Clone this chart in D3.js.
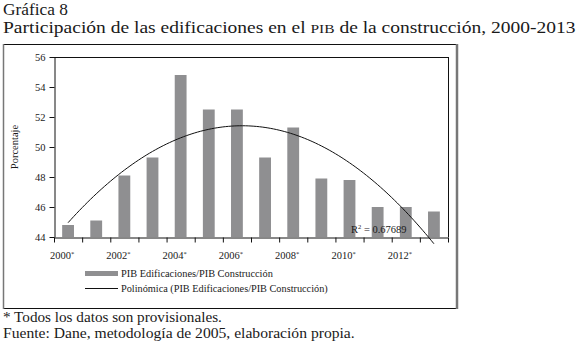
<!DOCTYPE html>
<html><head><meta charset="utf-8">
<script src="https://cdn.jsdelivr.net/npm/d3@7"></script>
<style>
html,body{margin:0;padding:0;background:#fff;}
svg{display:block;font-family:"Liberation Serif","DejaVu Serif",serif;}
</style></head>
<body>
<svg id="chart" width="578" height="348"></svg>
<script>
// ---- data ----
const years = ["2000","2001","2002","2003","2004","2005","2006","2007","2008","2009","2010","2011","2012","2013"];
const values = [44.8,45.1,48.1,49.3,54.8,52.5,52.5,49.3,51.3,47.9,47.8,46.0,46.0,45.7];
const labelYears = ["2000","2002","2004","2006","2008","2010","2012"];
const yTicks = [44,46,48,50,52,54,56];
const r2Text = "0.67689";

const svg = d3.select("#chart");
const ink = "#1a1a1a";
const L = 54, R = 448, T = 57, B = 237;

// stretch a text horizontally so it spans the given width (left anchored)
function fitWidth(sel, x0, target){
  const w = sel.node().getComputedTextLength();
  const k = target / w;
  sel.attr("transform", `translate(${x0},0) scale(${k},1) translate(${-x0},0)`);
}

// titles
const t1 = svg.append("text").attr("x",3).attr("y",15).attr("font-size",17).attr("fill",ink).text("Gráfica 8");
fitWidth(t1, 3, 65);
const t2 = svg.append("text").attr("x",3).attr("y",33).attr("font-size",17).attr("fill",ink);
t2.append("tspan").text("Participación de las edificaciones en el ");
t2.append("tspan").attr("font-size",13.5).text("PIB");
t2.append("tspan").text(" de la construcción, 2000-2013");
fitWidth(t2, 3, 573);

// outer frame
svg.append("line").attr("x1",3).attr("x2",457).attr("y1",44.5).attr("y2",44.5).attr("stroke","#111");
svg.append("line").attr("x1",3).attr("x2",457).attr("y1",308.5).attr("y2",308.5).attr("stroke","#111");
svg.append("line").attr("x1",3.5).attr("x2",3.5).attr("y1",44).attr("y2",309).attr("stroke","#777").attr("stroke-width",1.5);
svg.append("line").attr("x1",457).attr("x2",457).attr("y1",44).attr("y2",309).attr("stroke","#777").attr("stroke-width",2.5);

// scales
const x = d3.scaleBand().domain(years).range([L,R]).paddingInner(0.58).paddingOuter(0.29);
const xi = d3.scaleLinear().domain([0,years.length]).range([L,R]);
const y = d3.scaleLinear().domain([44,56]).range([B,T]);

// plot box top/right
svg.append("line").attr("x1",L).attr("x2",R+0.5).attr("y1",T+0.5).attr("y2",T+0.5).attr("stroke","#111");
svg.append("line").attr("x1",R+0.5).attr("x2",R+0.5).attr("y1",T).attr("y2",B).attr("stroke","#111");

// bars
svg.append("g").selectAll("rect").data(values).join("rect")
  .attr("x",(d,i)=>x(years[i])).attr("width",x.bandwidth())
  .attr("y",d=>y(d)).attr("height",d=>B-y(d))
  .attr("fill","#8f8f91");

// axes
const gx = svg.append("g").attr("transform",`translate(0,${B+0.5})`)
  .call(d3.axisBottom(xi).tickValues(d3.range(years.length+1)).tickSize(5).tickSizeOuter(0).tickFormat(""));
gx.select(".domain").attr("stroke","#111");
gx.selectAll(".tick line").attr("stroke","#111");

const gy = svg.append("g").attr("transform",`translate(${L+0.5},0)`)
  .call(d3.axisLeft(y).tickValues(yTicks).tickSize(5).tickSizeOuter(0).tickPadding(4));
gy.select(".domain").attr("stroke","#111");
gy.selectAll(".tick line").attr("stroke","#111");
gy.selectAll(".tick text").attr("font-family","Liberation Serif, serif").attr("font-size",10.5).attr("fill",ink);

// x labels
const xl = svg.append("g").selectAll("text").data(labelYears).join("text")
  .attr("x",d=>x(d)+x.bandwidth()/2-6).attr("y",259).attr("text-anchor","middle")
  .attr("font-size",10.5).attr("fill",ink);
xl.append("tspan").text(d=>d);
xl.append("tspan").attr("font-size",6.5).attr("dy",-3).text("*");

// y label
svg.append("text").attr("transform","translate(18,147) rotate(-90)").attr("text-anchor","middle")
  .attr("font-size",10.5).attr("fill",ink).text("Porcentaje");

// polynomial (order 2) least-squares trend of the bar values
const n = values.length, idx = d3.range(n);
const xm = d3.mean(idx);
const S2 = d3.sum(idx,i=>(i-xm)**2), S4 = d3.sum(idx,i=>(i-xm)**4);
const Sy = d3.sum(values), Sty = d3.sum(idx,i=>(i-xm)*values[i]), St2y = d3.sum(idx,i=>(i-xm)**2*values[i]);
const b1 = Sty/S2;
const c2 = (St2y - S2*Sy/n)/(S4 - S2*S2/n);
const c0 = (Sy - c2*S2)/n;
const poly = t => c0 + b1*(t-xm) + c2*(t-xm)**2;
const step = x.step();
const pts = d3.range(0, n-1+0.001, 0.1);
svg.append("path")
  .attr("d", d3.line().x(t=>x(years[0])+x.bandwidth()/2+t*step).y(t=>y(poly(t)))(pts))
  .attr("fill","none").attr("stroke","#111").attr("stroke-width",1);

// R2 label
const r2 = svg.append("text").attr("x",351).attr("y",233).attr("font-size",10.5).attr("fill",ink);
r2.append("tspan").text("R");
r2.append("tspan").attr("font-size",6.5).attr("dy",-4).text("2");
r2.append("tspan").attr("dy",4).text(" = " + r2Text);

// legend
svg.append("rect").attr("x",85).attr("y",271).attr("width",33).attr("height",5).attr("fill","#8f8f91");
const lg1 = svg.append("text").attr("x",121).attr("y",277).attr("font-size",10.5).attr("fill",ink).text("PIB Edificaciones/PIB Construcción");
fitWidth(lg1, 121, 152);
svg.append("line").attr("x1",85).attr("x2",118).attr("y1",288.5).attr("y2",288.5).attr("stroke","#111");
const lg2 = svg.append("text").attr("x",121).attr("y",292).attr("font-size",10.5).attr("fill",ink).text("Polinómica (PIB Edificaciones/PIB Construcción)");
fitWidth(lg2, 121, 207);

// footnotes
const f1 = svg.append("text").attr("x",3).attr("y",322).attr("font-size",14.5).attr("fill",ink).text("* Todos los datos son provisionales.");
fitWidth(f1, 3, 219);
const f2 = svg.append("text").attr("x",3).attr("y",338).attr("font-size",14.5).attr("fill",ink).text("Fuente: Dane, metodología de 2005, elaboración propia.");
fitWidth(f2, 3, 352);
</script>
</body></html>
